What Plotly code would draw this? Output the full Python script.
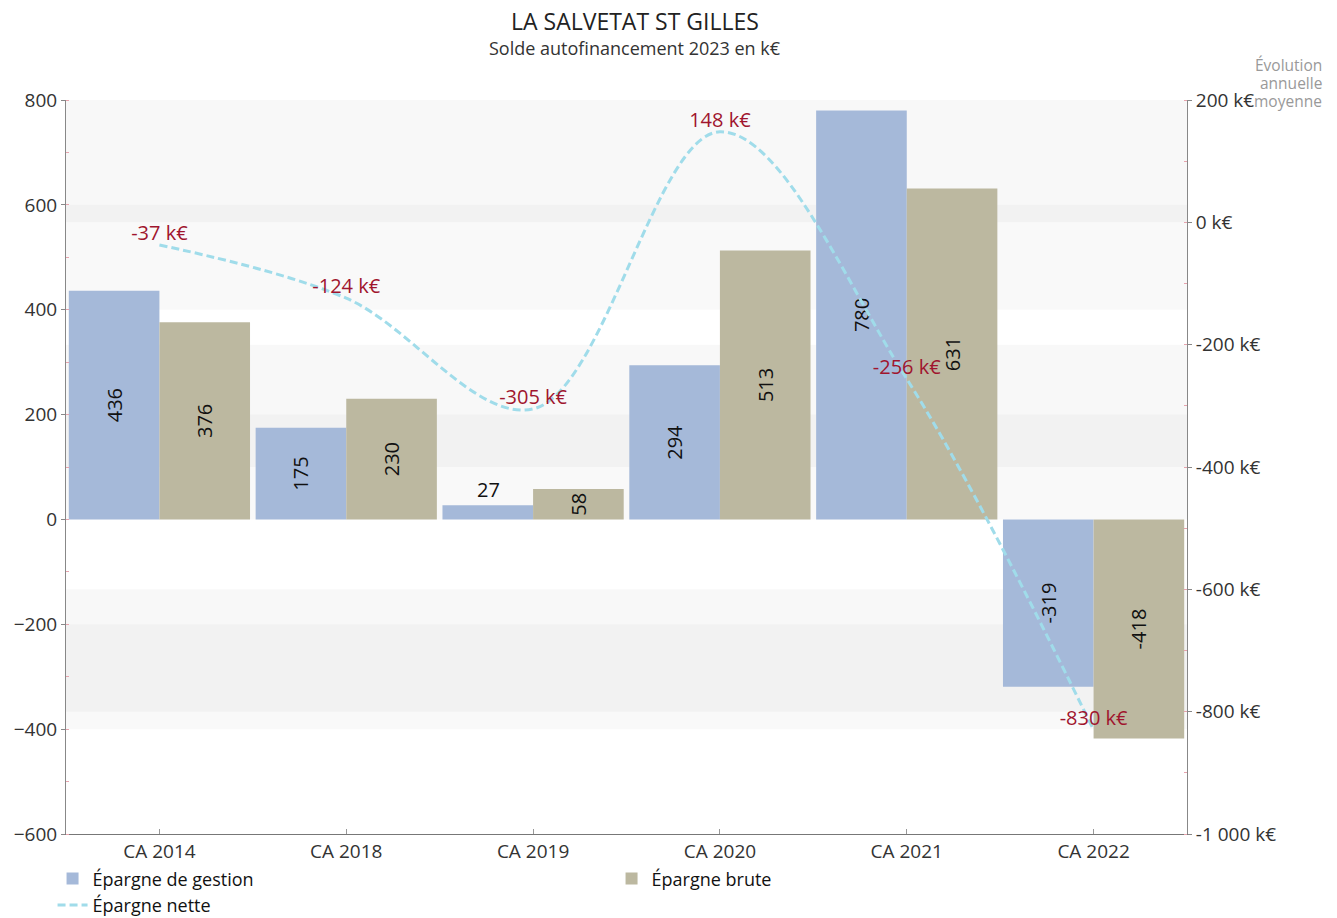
import plotly.graph_objects as go

categories = ["CA 2014", "CA 2018", "CA 2019", "CA 2020", "CA 2021", "CA 2022"]
epargne_gestion = [436, 175, 27, 294, 780, -319]
epargne_brute = [376, 230, 58, 513, 631, -418]
epargne_nette = [-37, -124, -305, 148, -256, -830]

left_ticks = [-600, -400, -200, 0, 200, 400, 600, 800]
right_ticks = [-1000, -800, -600, -400, -200, 0, 200]
right_ticktext = ["-1 000 k€", "-800 k€", "-600 k€", "-400 k€", "-200 k€", "0 k€", "200 k€"]

FONT = "Open Sans"
BLUE = "#a5b9d9"
KHAKI = "#bcb8a0"
CYAN = "#a0dcea"
RED = "#a0152e"

fig = go.Figure()

gestion_pos = ["none" if abs(v) < 40 else "inside" for v in epargne_gestion]
fig.add_trace(go.Bar(
    x=categories, y=epargne_gestion, name="Épargne de gestion",
    marker=dict(color=BLUE, line=dict(width=0)),
    text=[str(v) for v in epargne_gestion], textposition=gestion_pos,
    textangle=-90, insidetextanchor="middle",
    textfont=dict(family=FONT, size=20, color="#111"),
))
fig.add_trace(go.Bar(
    x=categories, y=epargne_brute, name="Épargne brute",
    marker=dict(color=KHAKI, line=dict(width=0)),
    text=[str(v) for v in epargne_brute], textposition="inside",
    textangle=-90, insidetextanchor="middle",
    textfont=dict(family=FONT, size=20, color="#111"),
))
fig.add_trace(go.Scatter(
    x=categories, y=epargne_nette, name="Épargne nette", yaxis="y2",
    mode="lines+text",
    line=dict(color=CYAN, width=3, dash="8px,4px", shape="spline", smoothing=1.0),
    text=[f"{v} k€" for v in epargne_nette], textposition="top center",
    textfont=dict(family=FONT, size=20, color=RED),
))

# small-bar label drawn horizontally above the bar
for c, v in zip(categories, epargne_gestion):
    if abs(v) < 40:
        fig.add_annotation(x=c, y=v, xref="x", yref="y", text=str(v), showarrow=False,
                           xshift=-45, yanchor="bottom", yshift=0,
                           font=dict(family=FONT, size=20, color="#111"))

shapes = []
for lo, hi in [(-400, -200), (0, 200), (400, 600)]:
    shapes.append(dict(type="rect", xref="paper", yref="y", x0=0, x1=1, y0=lo, y1=hi,
                       fillcolor="rgba(0,0,0,0.022)", line=dict(width=0), layer="below"))
for lo, hi in [(-800, -600), (-400, -200), (0, 200)]:
    shapes.append(dict(type="rect", xref="paper", yref="y2", x0=0, x1=1, y0=lo, y1=hi,
                       fillcolor="rgba(0,0,0,0.028)", line=dict(width=0), layer="below"))

fig.update_layout(
    width=1337, height=918,
    margin=dict(l=66, r=150, t=100, b=84, autoexpand=False),
    paper_bgcolor="white", plot_bgcolor="white",
    font=dict(family=FONT, size=19, color="#333"),
    barmode="group", bargap=0.03, bargroupgap=0,
    showlegend=True,
    legend=dict(orientation="h", x=-0.012, xanchor="left", y=-0.036, yanchor="top",
                font=dict(family=FONT, size=18, color="#111"),
                entrywidth=514, entrywidthmode="pixels", itemwidth=30,
                tracegroupgap=0, bgcolor="rgba(0,0,0,0)"),
    xaxis=dict(showgrid=False, showline=True, linecolor="#777", linewidth=1,
               ticks="inside", ticklen=5, tickcolor="#999",
               tickfont=dict(family=FONT, size=19, color="#333"), zeroline=False),
    yaxis=dict(range=[-600, 800], tickvals=left_ticks, showgrid=False, zeroline=False,
               showline=True, linecolor="#888", linewidth=1,
               ticks="outside", ticklen=4, tickcolor="#888",
               minor=dict(ticks="inside", ticklen=3, tickcolor="#e7a3ad", dtick=100, showgrid=False),
               tickfont=dict(family=FONT, size=19, color="#333")),
    yaxis2=dict(range=[-1000, 200], tickvals=right_ticks, ticktext=right_ticktext,
                overlaying="y", side="right", showgrid=False, zeroline=False,
                showline=True, linecolor="#888", linewidth=1,
                ticks="outside", ticklen=4, tickcolor="#888",
                minor=dict(ticks="inside", ticklen=3, tickcolor="#e7a3ad", dtick=100, showgrid=False),
                tickfont=dict(family=FONT, size=19, color="#333")),
    shapes=shapes,
)

fig.add_annotation(text="LA SALVETAT ST GILLES", xref="paper", yref="paper", x=0.5, y=1.0 + 79/734,
                   xshift=8, showarrow=False, yanchor="middle",
                   font=dict(family=FONT, size=23, color="#222"))
fig.add_annotation(text="Solde autofinancement 2023 en k€", xref="paper", yref="paper", x=0.5, y=1.0 + 52/734,
                   xshift=8, showarrow=False, yanchor="middle",
                   font=dict(family=FONT, size=18, color="#333"))
for i, line in enumerate(["Évolution", "annuelle", "moyenne"]):
    fig.add_annotation(text=line, xref="paper", yref="paper",
                       x=(1324 - 66) / 1121, y=1.0 + (35 - 18 * i) / 734, xanchor="right", yanchor="middle",
                       showarrow=False, font=dict(family=FONT, size=15.5, color="#999"))

fig.write_html("out.html")
